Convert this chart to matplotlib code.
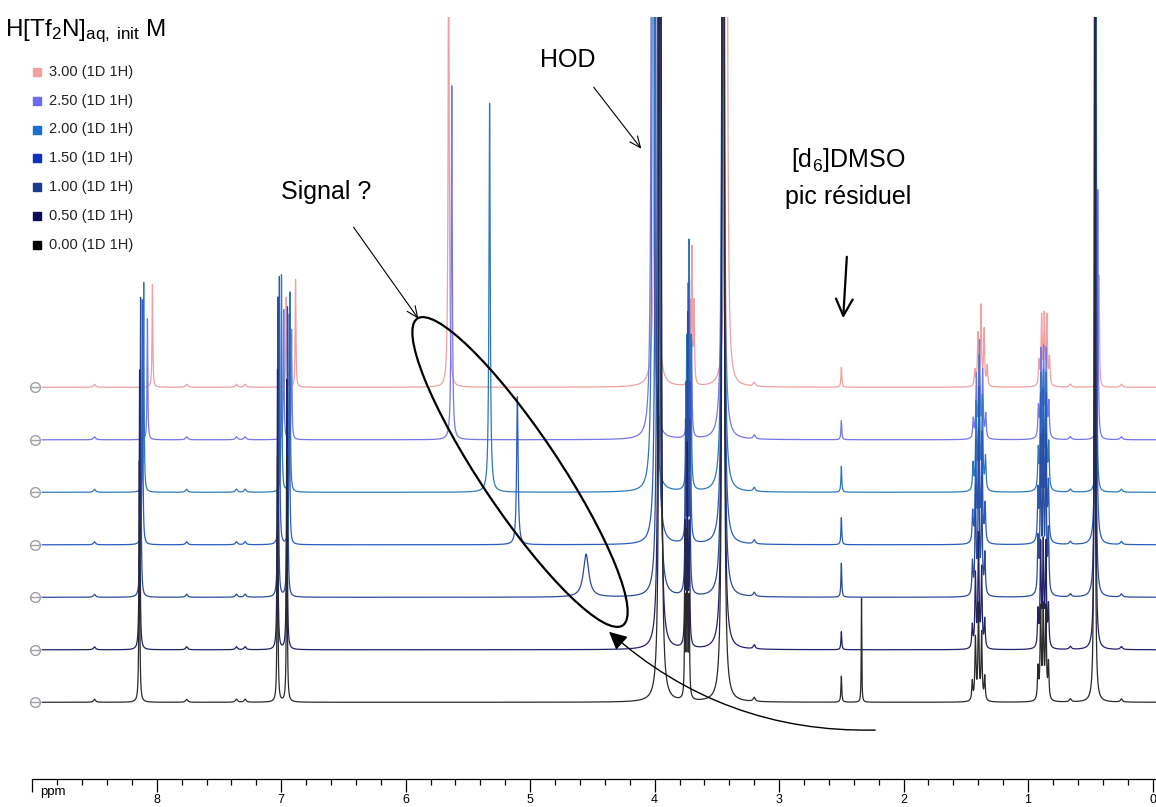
import numpy as np
import matplotlib
matplotlib.use("Agg")
import matplotlib.pyplot as plt
from matplotlib.patches import Ellipse, Rectangle, FancyArrowPatch
from matplotlib.transforms import Affine2D

plt.rcParams["font.family"] = ["Liberation Sans", "DejaVu Sans"]
plt.rcParams["mathtext.fontset"] = "custom"
plt.rcParams["mathtext.rm"] = "Liberation Sans"
plt.rcParams["mathtext.it"] = "Liberation Sans:italic"

# spectra, top trace first (H[Tf2N] initial concentration, M)
conc_labels = ["3.00", "2.50", "2.00", "1.50", "1.00", "0.50", "0.00"]
legend_colors = ["#f4a0a0", "#6a6af0", "#1a70d0", "#1030c0", "#1a3a90", "#0c0c58", "#000000"]
trace_colors = ["#f0a0a0", "#7676e8", "#2f78bc", "#2a5cc0", "#2a4c9c", "#22226a", "#2a2a2a"]

# aromatic signals (ppm, height)
arom1_ppm = [8.035, 8.075, 8.105, 8.115, 8.130, 8.138, 8.140]
arom1_h = [103, 121, 210, 245, 300, 280, 242]
arom2_ppm = [6.960, 6.980, 6.998, 7.015, 7.025, 7.030, 7.030]
arom2_h = [90, 130, 217, 268, 300, 280, 245]
arom3_ppm = [6.885, 6.917, 6.930, 6.935, 6.950, 6.955, 6.955]
arom3_h = [108, 110, 200, 230, 290, 270, 245]

# moving acid signal ("Signal ?")
signal_ppm = [5.655, 5.630, 5.326, 5.103, 4.551, 5.0, 5.0]
signal_h = [480, 354, 389, 148, 43, 0, 0]
signal_w = [0.005, 0.005, 0.006, 0.007, 0.026, 0.01, 0.01]

# HOD and 3.45 singlet (off scale)
hod_ppm = [3.990, 4.018, 4.010, 3.985, 3.970, 3.960, 3.955]
hod_h = [3000, 3000, 3000, 3000, 3000, 3000, 3000]
s345_ppm = [3.425, 3.450, 3.450, 3.450, 3.450, 3.450, 3.450]
s345_h = [3000, 3000, 3000, 3000, 3000, 3000, 3000]

# 3.7 multiplet
m37_ppm = [3.700, 3.720, 3.725, 3.730, 3.735, 3.738, 3.740]
m37_h = [132, 150, 237, 245, 267, 194, 162]
m37_offsets = [0.017, 0.0, -0.017]
m37_rel = [0.6, 1.0, 0.6]

# DMSO residual and extra peak of the 0.00 M sample
dmso_ppm = [2.50, 2.50, 2.50, 2.50, 2.50, 2.50, 2.50]
dmso_h = [20, 19, 26, 27, 34, 18, 26]
extra_ppm = [2.338, 2.338, 2.338, 2.338, 2.338, 2.338, 2.338]
extra_h = [0, 0, 0, 0, 0, 0, 104]

# aliphatic multiplets
m14_ppm = [1.378, 1.390, 1.392, 1.395, 1.397, 1.398, 1.398]
m14_h = [79, 95, 130, 150, 160, 112, 95]
m14_offsets = [0.05, 0.025, 0.0, -0.025, -0.05]
m14_rel = [0.2, 0.65, 1.0, 0.7, 0.25]
m09_ppm = [0.870, 0.875, 0.876, 0.878, 0.878, 0.878, 0.878]
m09_h = [68, 85, 110, 140, 150, 101, 90]
m09_offsets = [0.042, 0.021, 0.0, -0.021, -0.042]
m09_rel = [0.35, 1.0, 1.0, 1.0, 0.4]
s045_ppm = [0.430, 0.440, 0.450, 0.455, 0.460, 0.462, 0.465]
s045_h = [112, 250, 300, 900, 900, 900, 900]

# small impurity bumps common to all traces
minor_ppm = [8.50, 7.76, 7.36, 7.29, 3.20, 0.66, 0.25]
minor_h = [3, 3, 3, 3, 4, 3, 3]


def lor(x, x0, h, g=0.004):
    return h * g ** 2 / ((x - x0) ** 2 + g ** 2)


x = np.linspace(8.92, -0.04, 30000)

fig = plt.figure(figsize=(11.56, 8.07), dpi=100)
ax = fig.add_axes([32.3 / 1156, 28 / 807, (1156 - 32.3) / 1156, (779 - 17) / 807])
ax.set_xlim(9.0, -0.028)
ax.set_ylim(0, 762)

# image pixel coordinates (y down) for annotations
px = Affine2D().scale(0.01, -0.01).translate(0, 8.07) + fig.dpi_scale_trans

base0 = 391.7
step = 52.5
for i in range(len(conc_labels)):
    y = np.zeros_like(x)
    y += lor(x, arom1_ppm[i], arom1_h[i], 0.0035)
    y += lor(x, arom2_ppm[i], arom2_h[i], 0.0035)
    y += lor(x, arom3_ppm[i], arom3_h[i], 0.0035)
    y += lor(x, signal_ppm[i], signal_h[i], signal_w[i])
    y += lor(x, hod_ppm[i], hod_h[i], 0.0045)
    y += lor(x, s345_ppm[i], s345_h[i], 0.0045)
    for o, r in zip(m37_offsets, m37_rel):
        y += lor(x, m37_ppm[i] + o, m37_h[i] * r, 0.004)
    y += lor(x, dmso_ppm[i], dmso_h[i], 0.004)
    y += lor(x, extra_ppm[i], extra_h[i], 0.0025)
    for o, r in zip(m14_offsets, m14_rel):
        y += lor(x, m14_ppm[i] + o, m14_h[i] * r, 0.005)
    for o, r in zip(m09_offsets, m09_rel):
        y += lor(x, m09_ppm[i] + o, m09_h[i] * r, 0.005)
    y += lor(x, s045_ppm[i], s045_h[i], 0.004)
    for p, h in zip(minor_ppm, minor_h):
        y += lor(x, p, h, 0.01)

    base = base0 - i * step
    ax.plot(x, y + base, color=trace_colors[i], lw=0.9, zorder=2 + i)
    ax.plot([8.975], [base], marker="o", ms=7, mfc="white", mec="#a0a0aa", mew=1.0,
            clip_on=False, zorder=20)
    ax.plot([8.975], [base], marker="_", ms=7, mec="#a0a0aa", mew=1.0,
            clip_on=False, zorder=21)

# axis styling
for s in ["left", "right", "top"]:
    ax.spines[s].set_visible(False)
ax.spines["bottom"].set_linewidth(0.9)
ax.set_yticks([])
ax.set_xticks(np.arange(0, 9.01, 1.0))
ax.set_xticklabels([str(i) for i in range(9)] + [""])
ax.set_xticks(np.arange(0, 9.01, 0.2), minor=True)
ax.tick_params(axis="x", which="major", direction="out", length=9, width=0.9,
               pad=1.5, labelsize=9)
ax.tick_params(axis="x", which="minor", direction="out", length=4.3, width=0.9)
fig.text(53, 792, "ppm", transform=px, ha="center", va="center", fontsize=9.5)

# legend
fig.text(5, 31, r"H[Tf$_2$N]$_{\rm aq,\ init}$ M", transform=px, ha="left",
         va="center", fontsize=17.5)
for k, (lab, col) in enumerate(zip(conc_labels, legend_colors)):
    cy = 71.7 + k * 28.9
    fig.add_artist(Rectangle((33, cy - 4), 8, 8, transform=px, color=col))
    fig.text(49, cy, f"{lab} (1D 1H)", transform=px, ha="left", va="center",
             fontsize=10.5, color="#222222")

# annotations
fig.text(568, 60, "HOD", transform=px, ha="center", va="center", fontsize=18)
ax.annotate("", xy=(643, 151), xytext=(592, 85), xycoords=px, textcoords=px,
            arrowprops=dict(arrowstyle="->,head_length=0.8,head_width=0.35",
                            lw=0.8, color="black"))

fig.text(326, 192, "Signal ?", transform=px, ha="center", va="center", fontsize=18)
ax.annotate("", xy=(420, 321), xytext=(352, 225), xycoords=px, textcoords=px,
            arrowprops=dict(arrowstyle="->,head_length=0.8,head_width=0.35",
                            lw=0.8, color="black"))
fig.add_artist(Ellipse((520, 472), 2 * 184.6, 2 * 38.9, angle=56.2, transform=px,
                       fill=False, lw=1.6, ec="black"))

fig.text(848, 160, r"[d$_6$]DMSO", transform=px, ha="center", va="center", fontsize=18)
fig.text(848, 197, "pic résiduel", transform=px, ha="center", va="center", fontsize=18)
ax.annotate("", xy=(843, 321), xytext=(847, 254), xycoords=px, textcoords=px,
            arrowprops=dict(arrowstyle="->,head_length=1.2,head_width=0.6",
                            lw=1.6, color="black"))

fig.add_artist(FancyArrowPatch((878, 730), (607, 630), transform=px,
                               connectionstyle="arc3,rad=-0.2",
                               arrowstyle="-|>,head_length=0.6,head_width=0.3",
                               mutation_scale=18, lw=1.0, color="black"))

fig.savefig("out.png", dpi=100)
